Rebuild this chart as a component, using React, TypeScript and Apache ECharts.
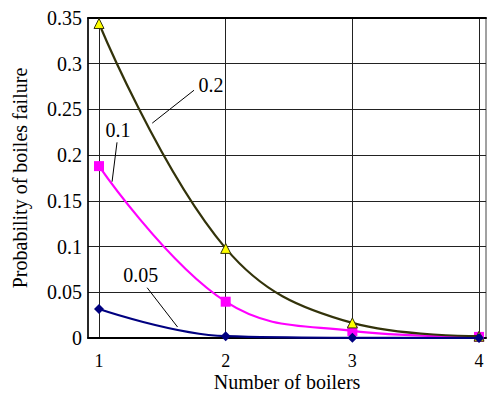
import React, { useEffect, useRef } from "react";
import * as echarts from "echarts";

const boilers = [1, 2, 3, 4];
const xTicks = [1, 2, 3, 4];
const p020 = [0.344, 0.098, 0.0165, 0.002];
const p010 = [0.188, 0.0397, 0.0077, 0.0012];
const p005 = [0.0317, 0.002, 0.0002, 0.0];

const seriesNames = ["0.2", "0.1", "0.05"];

// annotation anchors in data units: [point on curve], [end near label], [label position]
const leaderFrom = [[1.42, 0.235], [1.103, 0.171], [1.62, 0.012]];
const leaderTo = [[1.75, 0.271], [1.142, 0.214], [1.38, 0.055]];
const labelAt = [[1.785, 0.2765], [1.15, 0.2275], [1.33, 0.0689]];
const labelAlign = ["left", "center", "center"];

const FONT = "Liberation Serif";

export default function App() {
  const ref = useRef<HTMLDivElement>(null);
  useEffect(() => {
    if (!ref.current) return;
    const chart = echarts.init(ref.current, undefined, { renderer: "svg" });
    const mk = (vals: number[]) => boilers.map((b, i) => [b, vals[i]]);
    const xMin = 0.913;
    const xMax = 4.055;
    chart.setOption({
      animation: false,
      backgroundColor: "#fff",
      textStyle: { fontFamily: FONT },
      grid: {
        left: 88,
        top: 18,
        right: 1,
        bottom: 58,
        show: true,
        borderColor: "#444",
        borderWidth: 1,
        containLabel: false,
        outerBoundsMode: "none",
      },
      xAxis: [
        {
          type: "value",
          min: xMin,
          max: xMax,
          name: "Number of boilers",
          nameLocation: "middle",
          nameGap: 34,
          nameMoveOverlap: false,
          nameTextStyle: { fontFamily: FONT, fontSize: 20, color: "#000" },
          axisLine: { show: true, onZero: false, lineStyle: { color: "#000", width: 2 } },
          axisTick: { show: false, customValues: xTicks },
          axisLabel: {
            customValues: xTicks,
            fontFamily: FONT,
            fontSize: 18,
            color: "#000",
            margin: 14,
          },
          splitLine: { show: true, lineStyle: { color: "#222", width: 1 } },
        },
        {
          type: "value",
          position: "top",
          min: xMin,
          max: xMax,
          axisLine: { show: true, onZero: false, lineStyle: { color: "#000", width: 2 } },
          axisTick: { show: false },
          axisLabel: { show: false },
          splitLine: { show: false },
        },
      ],
      yAxis: {
        type: "value",
        min: 0,
        max: 0.35,
        interval: 0.05,
        name: "Probability of boiles failure",
        nameLocation: "middle",
        nameGap: 58,
        nameMoveOverlap: false,
        nameTextStyle: { fontFamily: FONT, fontSize: 20, color: "#000" },
        axisLine: { show: true, lineStyle: { color: "#000", width: 1.5 } },
        axisTick: { show: false },
        axisLabel: { fontFamily: FONT, fontSize: 20, color: "#000", margin: 6 },
        splitLine: { show: true, lineStyle: { color: "#222", width: 1 } },
      },
      series: [
        {
          name: seriesNames[0],
          type: "line",
          data: mk(p020),
          smooth: 0.4,
          symbol: "triangle",
          symbolSize: 10,
          lineStyle: { color: "#33330a", width: 2.2 },
          itemStyle: { color: "#ffff00", borderColor: "#33330a", borderWidth: 1 },
          z: 4,
        },
        {
          name: seriesNames[1],
          type: "line",
          data: mk(p010),
          smooth: 0.4,
          symbol: "rect",
          symbolSize: 10,
          lineStyle: { color: "#ff00ff", width: 2.2 },
          itemStyle: { color: "#ff00ff", borderColor: "#ff00ff", borderWidth: 0 },
          z: 3,
        },
        {
          name: seriesNames[2],
          type: "line",
          data: mk(p005),
          smooth: 0.4,
          symbol: "diamond",
          symbolSize: 10,
          lineStyle: { color: "#000080", width: 2.2 },
          itemStyle: { color: "#000080", borderColor: "#000080", borderWidth: 0 },
          z: 5,
        },
      ],
    });

    const toPx = (p: number[]) => chart.convertToPixel({ gridIndex: 0 }, p) as number[];
    const graphics: any[] = [];
    seriesNames.forEach((name, i) => {
      const a = toPx(leaderFrom[i]);
      const b = toPx(leaderTo[i]);
      const t = toPx(labelAt[i]);
      graphics.push({
        type: "line",
        shape: { x1: a[0], y1: a[1], x2: b[0], y2: b[1] },
        style: { stroke: "#000", lineWidth: 1 },
        z: 10,
      });
      graphics.push({
        type: "text",
        x: t[0],
        y: t[1],
        style: {
          text: name,
          fontFamily: FONT,
          fontSize: 20,
          fill: "#000",
          align: labelAlign[i],
          verticalAlign: "middle",
        },
        z: 10,
      });
    });
    chart.setOption({ graphic: graphics });

    return () => chart.dispose();
  }, []);
  return (
    <div
      ref={ref}
      style={{ position: "fixed", left: 0, top: 0, width: 487, height: 396 }}
    />
  );
}
